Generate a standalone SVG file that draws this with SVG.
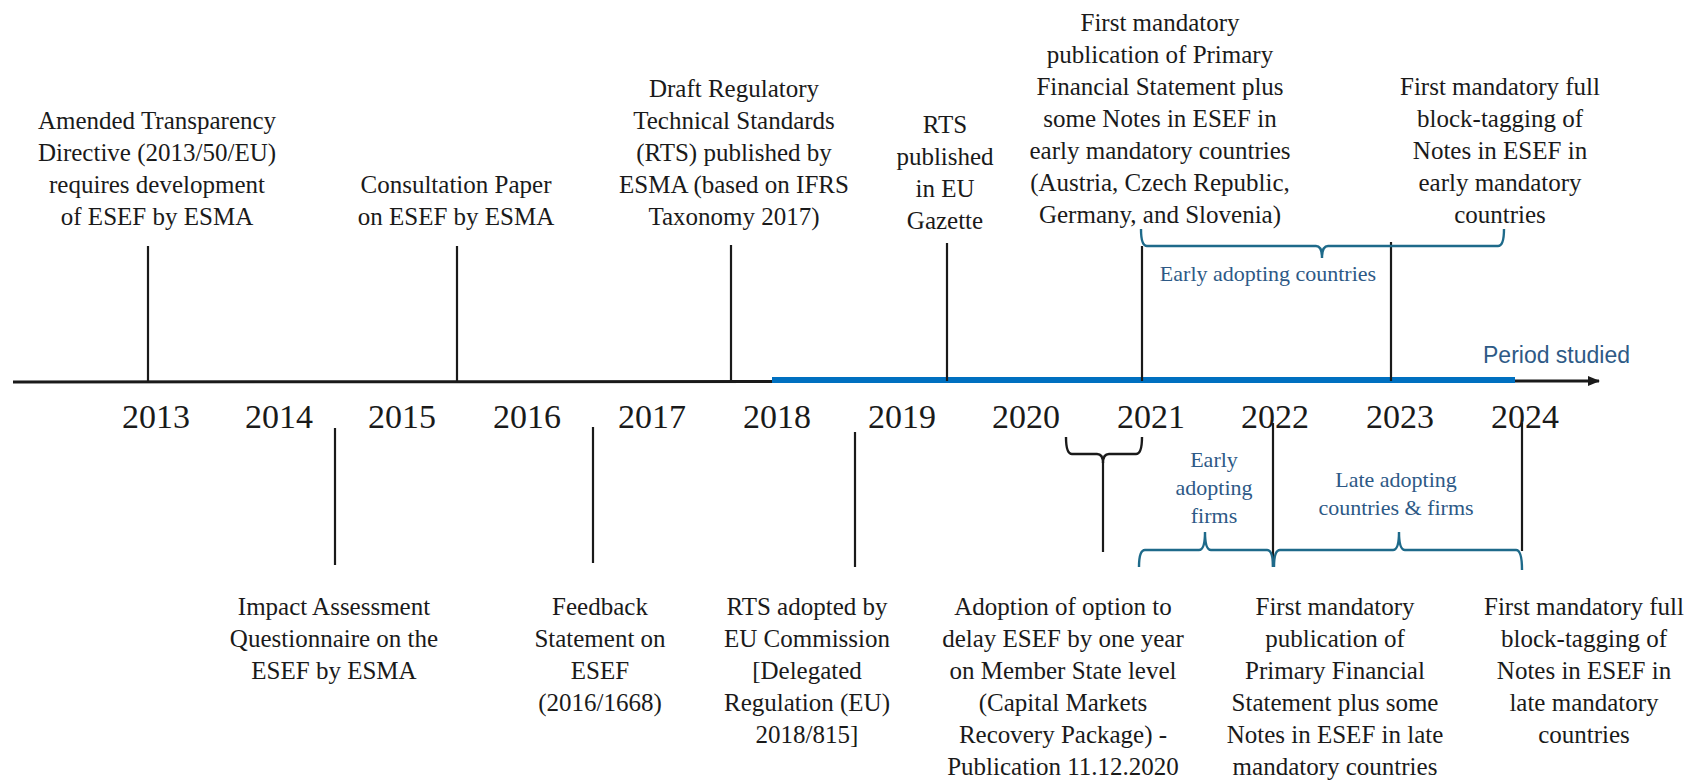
<svg xmlns="http://www.w3.org/2000/svg" width="1695" height="780" viewBox="0 0 1695 780">
<style>
.lbl{font-family:'Liberation Serif','DejaVu Serif',serif;font-size:25px;fill:#1a1a1a;text-anchor:middle}
.yr{font-family:'Liberation Serif','DejaVu Serif',serif;font-size:34px;fill:#1a1a1a;text-anchor:middle}
.blbl{font-family:'Liberation Serif','DejaVu Serif',serif;font-size:22px;fill:#2d5986;text-anchor:middle}
.per{font-family:'Liberation Sans',Arial,sans-serif;font-size:23px;fill:#2e5a86}
.tick{stroke:#1a1a1a;stroke-width:2.2;fill:none}
.brace{stroke:#1e6a8a;stroke-width:2.4;fill:none}
.kbrace{stroke:#1a1a1a;stroke-width:2.4;fill:none}
</style>
<defs>
<marker id="arr" markerWidth="12" markerHeight="10" refX="11" refY="5" orient="auto" markerUnits="userSpaceOnUse">
<path d="M0,0 L12,5 L0,10 Z" fill="#1a1a1a"/>
</marker>
</defs>
<rect width="1695" height="780" fill="#ffffff"/>

<g id="axis">
<line x1="13" y1="382" x2="1599" y2="381" stroke="#1a1a1a" stroke-width="3" marker-end="url(#arr)"/>
<line x1="772" y1="380" x2="1515" y2="380" stroke="#0070c0" stroke-width="6"/>
<text class="per" x="1483" y="363">Period studied</text>
</g>

<g id="years">
<text class="yr" x="156" y="428">2013</text>
<text class="yr" x="279" y="428">2014</text>
<text class="yr" x="402" y="428">2015</text>
<text class="yr" x="527" y="428">2016</text>
<text class="yr" x="652" y="428">2017</text>
<text class="yr" x="777" y="428">2018</text>
<text class="yr" x="902" y="428">2019</text>
<text class="yr" x="1026" y="428">2020</text>
<text class="yr" x="1151" y="428">2021</text>
<text class="yr" x="1275" y="428">2022</text>
<text class="yr" x="1400" y="428">2023</text>
<text class="yr" x="1525" y="428">2024</text>
</g>

<g id="connectors">
<line class="tick" x1="148" y1="246" x2="148" y2="381"/>
<line class="tick" x1="457" y1="246" x2="457" y2="381"/>
<line class="tick" x1="731" y1="245" x2="731" y2="381"/>
<line class="tick" x1="947" y1="243" x2="947" y2="381"/>
<line class="tick" x1="1142" y1="246" x2="1142" y2="381"/>
<line class="tick" x1="1391" y1="242" x2="1391" y2="381"/>
<line class="tick" x1="335" y1="428" x2="335" y2="565"/>
<line class="tick" x1="593" y1="427" x2="593" y2="563"/>
<line class="tick" x1="855" y1="432" x2="855" y2="567"/>
<line class="tick" x1="1273" y1="423" x2="1273" y2="567"/>
<line class="tick" x1="1522" y1="423" x2="1522" y2="551"/>
<path class="kbrace" d="M1066,437 Q1066,454 1072,454 L1097,454 Q1103,454 1103,463 Q1103,454 1109,454 L1136,454 Q1142,454 1142,437"/>
<line class="tick" x1="1103" y1="462" x2="1103" y2="552"/>
<path class="brace" d="M1141,229 Q1141,246 1147,246 L1316,246 Q1322,246 1322,258 Q1322,246 1328,246 L1498,246 Q1504,246 1504,229"/>
<path class="brace" d="M1139,567 Q1139,550 1145,550 L1199,550 Q1205,550 1205,532 Q1205,550 1211,550 L1267,550 Q1273,550 1273,567"/>
<path class="brace" d="M1274,567 Q1274,550 1280,550 L1393,550 Q1399,550 1399,532 Q1399,550 1405,550 L1516,550 Q1522,550 1522,570"/>
</g>

<g id="n-amended">
<text class="lbl" x="157" y="129">Amended Transparency</text>
<text class="lbl" x="157" y="161">Directive (2013/50/EU)</text>
<text class="lbl" x="157" y="193">requires development</text>
<text class="lbl" x="157" y="225">of ESEF by ESMA</text>
</g>
<g id="n-consultation">
<text class="lbl" x="456" y="193">Consultation Paper</text>
<text class="lbl" x="456" y="225">on ESEF by ESMA</text>
</g>
<g id="n-draft">
<text class="lbl" x="734" y="97">Draft Regulatory</text>
<text class="lbl" x="734" y="129">Technical Standards</text>
<text class="lbl" x="734" y="161">(RTS) published by</text>
<text class="lbl" x="734" y="193">ESMA (based on IFRS</text>
<text class="lbl" x="734" y="225">Taxonomy 2017)</text>
</g>
<g id="n-gazette">
<text class="lbl" x="945" y="133">RTS</text>
<text class="lbl" x="945" y="165">published</text>
<text class="lbl" x="945" y="197">in EU</text>
<text class="lbl" x="945" y="229">Gazette</text>
</g>
<g id="n-first-early">
<text class="lbl" x="1160" y="31">First mandatory</text>
<text class="lbl" x="1160" y="63">publication of Primary</text>
<text class="lbl" x="1160" y="95">Financial Statement plus</text>
<text class="lbl" x="1160" y="127">some Notes in ESEF in</text>
<text class="lbl" x="1160" y="159">early mandatory countries</text>
<text class="lbl" x="1160" y="191">(Austria, Czech Republic,</text>
<text class="lbl" x="1160" y="223">Germany, and Slovenia)</text>
</g>
<g id="n-full-early">
<text class="lbl" x="1500" y="95">First mandatory full</text>
<text class="lbl" x="1500" y="127">block-tagging of</text>
<text class="lbl" x="1500" y="159">Notes in ESEF in</text>
<text class="lbl" x="1500" y="191">early mandatory</text>
<text class="lbl" x="1500" y="223">countries</text>
</g>
<g id="n-early-countries">
<text class="blbl" x="1268" y="281">Early adopting countries</text>
</g>

<g id="n-impact">
<text class="lbl" x="334" y="615">Impact Assessment</text>
<text class="lbl" x="334" y="647">Questionnaire on the</text>
<text class="lbl" x="334" y="679">ESEF by ESMA</text>
</g>
<g id="n-feedback">
<text class="lbl" x="600" y="615">Feedback</text>
<text class="lbl" x="600" y="647">Statement on</text>
<text class="lbl" x="600" y="679">ESEF</text>
<text class="lbl" x="600" y="711">(2016/1668)</text>
</g>
<g id="n-adopted">
<text class="lbl" x="807" y="615">RTS adopted by</text>
<text class="lbl" x="807" y="647">EU Commission</text>
<text class="lbl" x="807" y="679">[Delegated</text>
<text class="lbl" x="807" y="711">Regulation (EU)</text>
<text class="lbl" x="807" y="743">2018/815]</text>
</g>
<g id="n-delay">
<text class="lbl" x="1063" y="615">Adoption of option to</text>
<text class="lbl" x="1063" y="647">delay ESEF by one year</text>
<text class="lbl" x="1063" y="679">on Member State level</text>
<text class="lbl" x="1063" y="711">(Capital Markets</text>
<text class="lbl" x="1063" y="743">Recovery Package) -</text>
<text class="lbl" x="1063" y="775">Publication 11.12.2020</text>
</g>
<g id="n-first-late">
<text class="lbl" x="1335" y="615">First mandatory</text>
<text class="lbl" x="1335" y="647">publication of</text>
<text class="lbl" x="1335" y="679">Primary Financial</text>
<text class="lbl" x="1335" y="711">Statement plus some</text>
<text class="lbl" x="1335" y="743">Notes in ESEF in late</text>
<text class="lbl" x="1335" y="775">mandatory countries</text>
</g>
<g id="n-full-late">
<text class="lbl" x="1584" y="615">First mandatory full</text>
<text class="lbl" x="1584" y="647">block-tagging of</text>
<text class="lbl" x="1584" y="679">Notes in ESEF in</text>
<text class="lbl" x="1584" y="711">late mandatory</text>
<text class="lbl" x="1584" y="743">countries</text>
</g>
<g id="n-early-firms">
<text class="blbl" x="1214" y="467">Early</text>
<text class="blbl" x="1214" y="495">adopting</text>
<text class="blbl" x="1214" y="523">firms</text>
</g>
<g id="n-late">
<text class="blbl" x="1396" y="487">Late adopting</text>
<text class="blbl" x="1396" y="515">countries &amp; firms</text>
</g>
</svg>
